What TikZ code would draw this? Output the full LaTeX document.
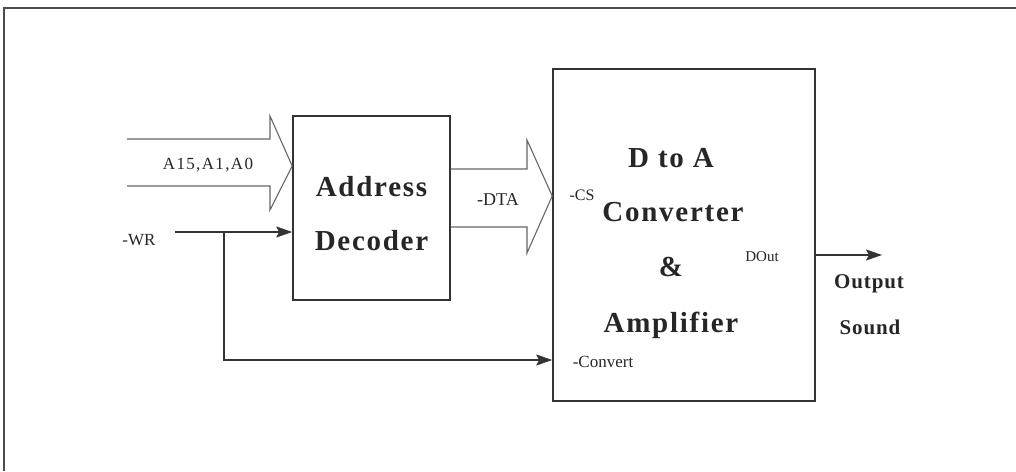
\documentclass[tikz,border=0pt]{standalone}
\usepackage{fontspec}
\setmainfont{Liberation Serif}
\usetikzlibrary{arrows.meta}
\tikzset{
  block/.style={draw=black!80, line width=1.6pt, minimum width=0pt, inner sep=0pt},
  frame/.style={draw=black!70, line width=2pt},
  bus/.style={draw=black!60, line width=1.1pt, line join=miter},
  sig/.style={draw=black!80, line width=1.6pt, -{Stealth[length=16pt,width=11pt,inset=3pt]}},
  title/.style={font=\fontsize{29}{29}\selectfont\bfseries\addfontfeature{LetterSpace=6}, inner sep=0pt, text=black!85},
  outlabel/.style={font=\fontsize{21}{21}\selectfont\bfseries\addfontfeature{LetterSpace=4}, inner sep=0pt, text=black!85},
  pin/.style={font=\fontsize{17}{17}\selectfont, inner sep=0pt, text=black!85}
}
\begin{document}
\begin{tikzpicture}[x=1pt, y=-1pt]
  \useasboundingbox (0,0) rectangle (1016,471);
  \fill[white] (0,0) rectangle (1016,471);

  % outer frame: top and left edges
  \draw[frame] (4,471) -- (4,8) -- (1016,8);

  % blocks
  \node[block, minimum width=157pt, minimum height=184pt] (dec) at (371.5,208) {};
  \node[block, minimum width=262pt, minimum height=332pt] (dac) at (684,235) {};

  % block captions
  \node[title] (decA) at (371.5,187) {Address};
  \node[title] (decB) at (371.5,241) {Decoder};
  \node[title] (dacA) at (671,158) {D to A};
  \node[title] (dacB) at (673,212) {Converter};
  \node[title] (dacC) at (671,267) {\&};
  \node[title] (dacD) at (671,325) {Amplifier};

  % address bus into the decoder
  \draw[bus] (127,139) -- (270,139) -- (270,116) -- (dec.west |- 0,166)
             -- (270,210) -- (270,186) -- (127,186);
  \node[pin, font=\fontsize{17}{17}\selectfont\addfontfeature{LetterSpace=8}] (addr) at (208,165) {A15,A1,A0};

  % chip-select bus from decoder to converter
  \draw[bus] (dec.east |- 0,169) -- (527,169) -- (527,140) -- (dac.west |- 0,196)
             -- (527,253) -- (527,227) -- (dec.east |- 0,227);
  \node[pin, font=\fontsize{18}{18}\selectfont] (dta) at (498,200) {-DTA};
  \node[pin, font=\fontsize{16}{16}\selectfont] (cs) at (582,195) {-CS};

  % write strobe
  \node[pin, font=\fontsize{17}{17}\selectfont] (wr) at (139,240) {-WR};
  \coordinate (wrS) at (175,232);
  \coordinate (wrT) at (224,232);
  \coordinate (cvB) at (224,360);
  \draw[sig] (wrS) -- (dec.west |- wrS);
  \draw[sig] (wrT) -- (cvB) -- (dac.west |- cvB);
  \node[pin, font=\fontsize{17}{17}\selectfont] (conv) at (603,362) {-Convert};

  % analogue output
  \node[pin, font=\fontsize{15}{15}\selectfont] (dout) at (762,257) {DOut};
  \coordinate (outE) at (882,255);
  \draw[sig] (dac.east |- outE) -- (outE);
  \node[outlabel] (outA) at (869,284) {Output};
  \node[outlabel] (outB) at (870,327) {Sound};
\end{tikzpicture}
\end{document}
